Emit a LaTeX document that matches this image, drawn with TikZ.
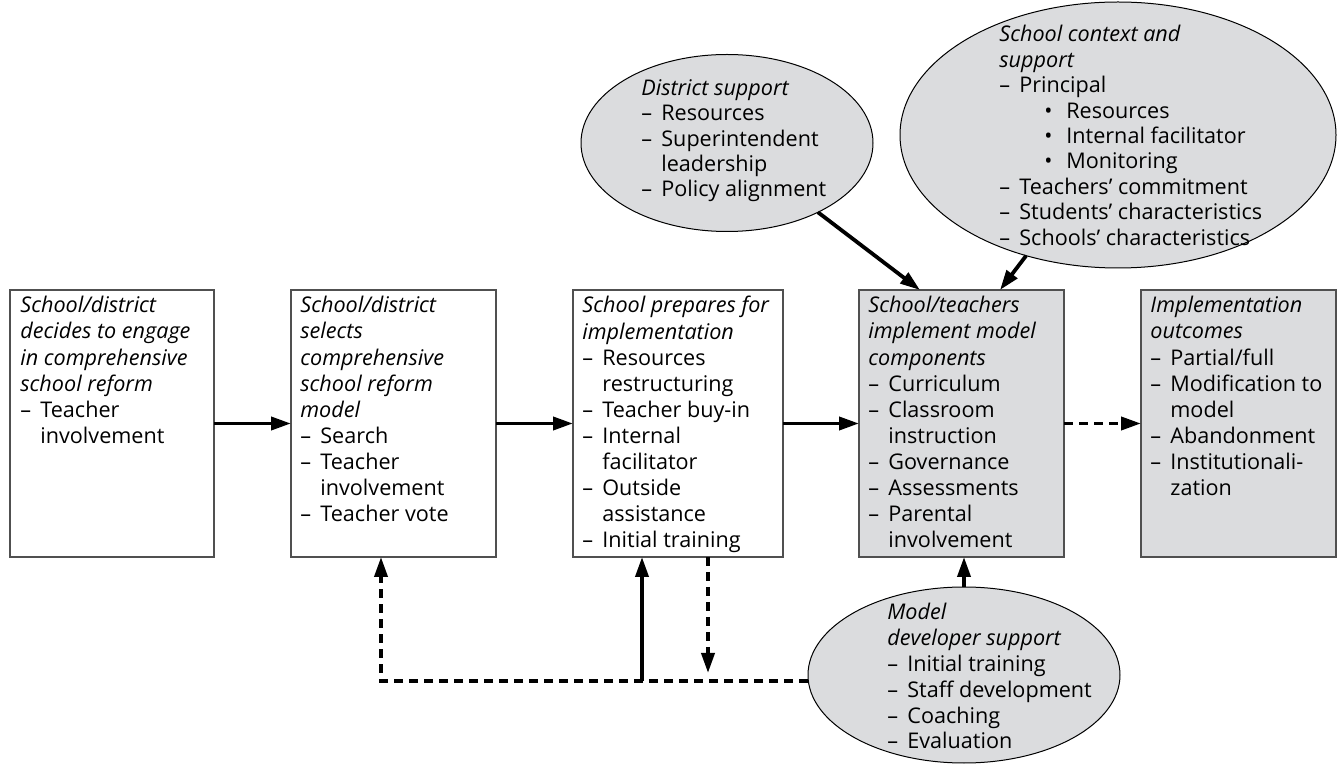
\documentclass[tikz,border=0pt]{standalone}
\usepackage{fontspec}
\setmainfont{Open Sans}
\usetikzlibrary{shapes.geometric,arrows.meta}
\definecolor{reformgrey}{RGB}{219,220,222}
\definecolor{edgegrey}{RGB}{80,80,80}
\newcommand{\hd}[1]{\textit{#1}}
\newcommand{\itm}{\makebox[10pt][l]{\textendash}}
\newcommand{\hng}{\hspace*{10pt}}
\newcommand{\bul}{\hspace*{22.5pt}\makebox[11pt][l]{\textbullet}}

\begin{document}
\begin{tikzpicture}[x=0.5pt, y=-0.5pt,
    stage/.style={draw=edgegrey, line width=0.8pt, anchor=north west,
      minimum height=133.5pt, inner sep=0pt, outer sep=0pt},
    shaded/.style={fill=reformgrey},
    blob/.style={ellipse, draw=black, line width=0.5pt, fill=reformgrey,
      inner sep=0pt, outer sep=0pt},
    words/.style={anchor=north west, align=left, inner sep=0pt,
      font=\fontsize{10.8}{13.05}\selectfont},
    blobwords/.style={words, font=\fontsize{10.8}{12.7}\selectfont},
    flow/.style={line width=1.9pt, -{Triangle[length=10pt,width=6.5pt]}},
    dashflow/.style={flow, dash pattern=on 4.5pt off 3pt}]
  \useasboundingbox (0,0) rectangle (1340,764);

  % the five stages
  \node[stage, minimum width=102pt] (b1) at (10,290) {};
  \node[stage, minimum width=102.5pt] (b2) at (291,290) {};
  \node[stage, minimum width=105pt] (b3) at (573,290) {};
  \node[stage, shaded, minimum width=102.5pt] (b4) at (859,290) {};
  \node[stage, shaded, minimum width=97.5pt] (b5) at (1141,290) {};

  \node[words] (t1) at ([xshift=5pt,yshift=-3pt]b1.north west)
    {\hd{School/district}\\\hd{decides to engage}\\\hd{in comprehensive}\\
     \hd{school reform}\\\itm Teacher\\\hng involvement};
  \node[words] (t2) at ([xshift=4.5pt,yshift=-3pt]b2.north west)
    {\hd{School/district}\\\hd{selects}\\\hd{comprehensive}\\\hd{school reform}\\
     \hd{model}\\\itm Search\\\itm Teacher\\\hng involvement\\\itm Teacher vote};
  \node[words] (t3) at ([xshift=4.5pt,yshift=-3pt]b3.north west)
    {\hd{School prepares for}\\\hd{implementation}\\\itm Resources\\\hng restructuring\\
     \itm Teacher buy-in\\\itm Internal\\\hng facilitator\\\itm Outside\\
     \hng assistance\\\itm Initial training};
  \node[words] (t4) at ([xshift=4.5pt,yshift=-3pt]b4.north west)
    {\hd{School/teachers}\\\hd{implement model}\\\hd{components}\\\itm Curriculum\\
     \itm Classroom\\\hng instruction\\\itm Governance\\\itm Assessments\\
     \itm Parental\\\hng involvement};
  \node[words] (t5) at ([xshift=4.5pt,yshift=-3pt]b5.north west)
    {\hd{Implementation}\\\hd{outcomes}\\\itm Partial/full\\\itm Modification to\\
     \hng model\\\itm Abandonment\\\itm Institutionali-\\\hng zation};

  % supports
  \node[blob, minimum width=146pt, minimum height=88.5pt] (dist) at (727,143) {};
  \node[blob, minimum width=218pt, minimum height=133pt] (ctx) at (1118,135) {};
  \node[blob, minimum width=156pt, minimum height=88pt] (mdl) at (964,675) {};

  \node[blobwords] (tdist) at (641,79)
    {\hd{District support}\\\itm Resources\\\itm Superintendent\\\hng leadership\\
     \itm Policy alignment};
  \node[blobwords] (tctx) at (999,25)
    {\hd{School context and}\\\hd{support}\\\itm Principal\\\bul Resources\\
     \bul Internal facilitator\\\bul Monitoring\\\itm Teachers’ commitment\\
     \itm Students’ characteristics\\\itm Schools’ characteristics};
  \node[words, font=\fontsize{10.8}{12.9}\selectfont] (tmdl) at (887,603)
    {\hd{Model}\\\hd{developer support}\\\itm Initial training\\\itm Staff development\\
     \itm Coaching\\\itm Evaluation};

  % main flow
  \draw[flow] (b1.east) -- (b2.west);
  \draw[flow] (b2.east) -- (b3.west);
  \draw[flow] (b3.east) -- (b4.west);
  \draw[dashflow] (b4.east) -- (b5.west);

  \coordinate (d4) at ([xshift=30.5pt]b4.north west);
  \coordinate (c4) at ([xshift=70.5pt]b4.north west);
  \draw[flow] (dist) -- (d4);
  \draw[flow] (ctx) -- (c4);
  \draw[flow] (mdl.north) -- (mdl.north |- b4.south);

  % feedback
  \coordinate (fb) at (381,681);
  \coordinate (up3) at (642,681);
  \coordinate (dn3) at (708,673);
  \draw[dashflow] (fb -| mdl.west) -- (fb) -- (fb |- b2.south);
  \draw[flow] (up3) -- (up3 |- b3.south);
  \draw[dashflow] (dn3 |- b3.south) -- (dn3);
\end{tikzpicture}
\end{document}
